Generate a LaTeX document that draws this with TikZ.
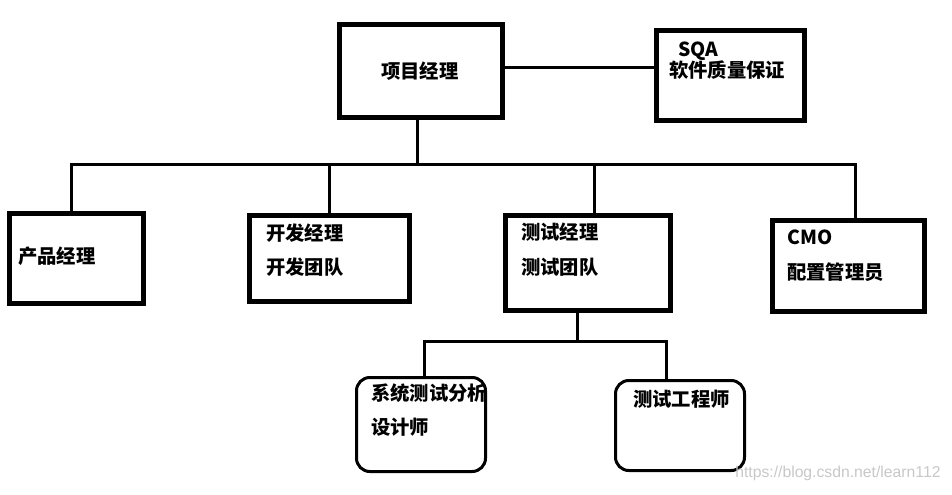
\documentclass[tikz,border=0pt]{standalone}
\usepackage{fontspec}
\setmainfont{Noto Sans CJK SC}
\newfontfamily\marcafont{Liberation Sans}
\usetikzlibrary{positioning}
\usetikzlibrary{calc}
\definecolor{figMarca}{RGB}{200,200,200}
\tikzset{
  caja/.style={
    rectangle, draw=black, line width=3.75pt, fill=white,
    inner sep=0pt
  },
  cajar/.style={
    rectangle, rounded corners=10pt, draw=black, line width=2.25pt,
    fill=white, inner sep=0pt
  },
  texto/.style={
    anchor=west, align=left, inner sep=0pt,
    font=\bfseries\fontsize{14.5}{26}\selectfont
  },
  enlace/.style={line width=2.25pt, draw=black},
  marcatxt/.style={
    anchor=west, inner sep=0pt, text=figMarca,
    font=\marcafont\fontsize{11.8}{14}\selectfont
  }
}
\begin{document}
\begin{tikzpicture}[x=0.75pt,y=-0.75pt]
  \fill[white] (0,0) rectangle (952,494);
  \useasboundingbox (0,0) rectangle (952,494);

  % cajas
  \node[caja, minimum width=122.25pt, minimum height=69.75pt] (pm) at (421,71) {};
  \node[caja, minimum width=111pt, minimum height=67.5pt] (sqa) at (730.5,75.5) {};
  \node[caja, minimum width=100.5pt, minimum height=67.5pt] (pdm) at (76.5,258.5) {};
  \node[caja, minimum width=120pt, minimum height=64.5pt] (dev) at (329.5,258.5) {};
  \node[caja, minimum width=123.75pt, minimum height=71.25pt] (tst) at (588,263) {};
  \node[caja, minimum width=114pt, minimum height=68.25pt] (cmo) at (848.5,266) {};
  \node[cajar, minimum width=96.75pt, minimum height=70.5pt] (sys) at (421,424.5) {};
  \node[cajar, minimum width=96.75pt, minimum height=67.5pt] (eng) at (680,425.5) {};

  % textos
  \node[texto] (pmtxt) at (381,71) {项目经理};
  \node[texto] (sqatxt) at (669,60.5) {\hspace*{6.75pt}SQA\\[-10.25pt]软件质量保证};
  \node[texto] (pdmtxt) at (18,256) {产品经理};
  \node[texto] (devtxt) at (266,250) {开发经理\\开发团队};
  \node[texto] (tsttxt) at (521,249.5) {测试经理\\测试团队};
  \node[texto] (cmotxt) at (787,256) {CMO\\配置管理员};
  \node[texto] (systxt) at (371,410) {系统测试分析\\设计师};
  \node[texto] (engtxt) at (633,399) {测试工程师};

  % enlaces
  \coordinate (bus) at (0,164);
  \coordinate (pmfoot) at ([xshift=-3pt]pm.south);
  \coordinate (pmright) at ([yshift=3pt]pm.east);
  \coordinate (pdmdrop) at ([xshift=-3.4pt]pdm.north);
  \coordinate (tstdrop) at ([xshift=4.5pt]tst.north);
  \coordinate (cmodrop) at ([xshift=4.9pt]cmo.north);
  \coordinate (tstfoot) at ([xshift=-8.25pt]tst.south);
  \coordinate (sysdrop) at ([xshift=2.25pt]sys.north);
  \coordinate (engdrop) at ([xshift=-10.5pt]eng.north);

  \draw[enlace] (pmright) -- (pmright -| sqa.west);
  \draw[enlace] (pmfoot) -- (pmfoot |- bus);
  \draw[enlace] (pdmdrop) |- (cmodrop |- bus) -- (cmodrop);
  \draw[enlace] (dev.north |- bus) -- (dev.north);
  \draw[enlace] (tstdrop |- bus) -- (tstdrop);
  \draw[enlace] (tstfoot) -- ++(0,28) coordinate (fork);
  \draw[enlace] (sysdrop) |- (engdrop |- fork) -- (engdrop);

  \node[marcatxt] (marca) at (735,473) {https://blog.csdn.net/learn112};
\end{tikzpicture}
\end{document}
